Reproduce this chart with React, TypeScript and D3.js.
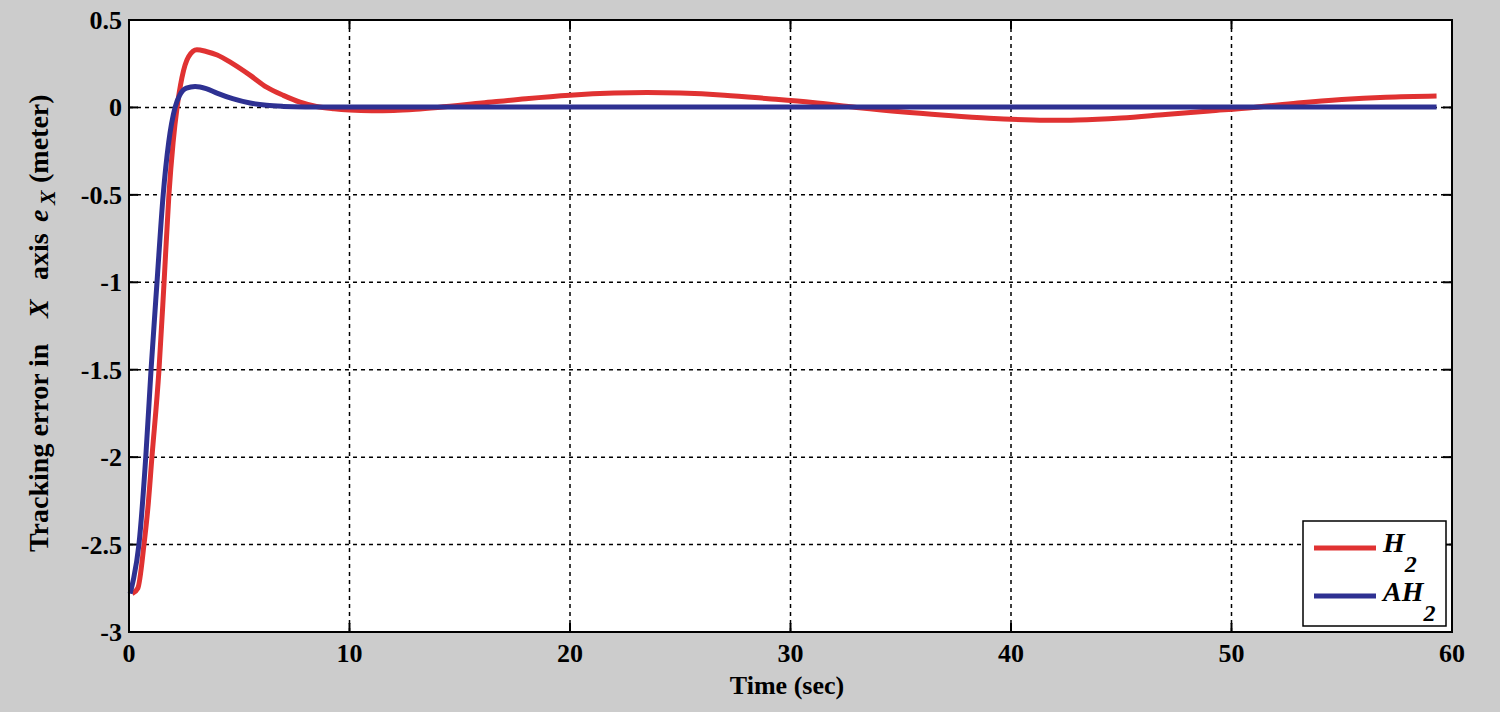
import React from "react";
import * as d3 from "d3";

const xTicks = [0, 10, 20, 30, 40, 50, 60];
const yTicks = [0.5, 0, -0.5, -1, -1.5, -2, -2.5, -3];
const yTickLabels = ["0.5", "0", "-0.5", "-1", "-1.5", "-2", "-2.5", "-3"];

const h2Time = [0.15, 0.4, 0.68, 0.85, 1.04, 1.36, 1.59, 1.81, 2.0, 2.18, 2.4, 2.7, 3.08, 3.5, 4.0, 4.7, 5.5, 6.24, 7.0, 7.76, 8.5, 9.3, 10, 11, 12, 13, 14, 16, 18, 20, 22, 23.5, 25, 27, 29, 31, 33, 35, 37, 39, 41, 42, 43, 45, 47, 49, 51, 53, 55, 57, 59.3];
const h2Value = [-2.78, -2.75, -2.5, -2.3, -2.0, -1.5, -1.0, -0.5, -0.2, 0.0, 0.17, 0.29, 0.33, 0.32, 0.3, 0.25, 0.183, 0.116, 0.069, 0.03, 0.005, -0.008, -0.015, -0.019, -0.017, -0.01, 0.0, 0.025, 0.05, 0.07, 0.082, 0.085, 0.082, 0.07, 0.05, 0.028, 0.0, -0.025, -0.045, -0.062, -0.072, -0.074, -0.072, -0.06, -0.04, -0.02, 0.0, 0.025, 0.045, 0.058, 0.065];

const ah2Time = [0.05, 0.2, 0.45, 0.76, 1.0, 1.27, 1.55, 1.8, 2.09, 2.3, 2.6, 3.0, 3.5, 3.99, 4.7, 5.49, 6.24, 7, 8, 10, 15, 20, 25, 30, 35, 40, 45, 50, 55, 59.3];
const ah2Value = [-2.78, -2.7, -2.5, -2.0, -1.5, -1.0, -0.5, -0.2, 0.0, 0.07, 0.11, 0.12, 0.108, 0.082, 0.05, 0.025, 0.012, 0.006, 0.003, 0.002, 0.002, 0.002, 0.002, 0.002, 0.002, 0.002, 0.002, 0.002, 0.002, 0.002];

const seriesNames = ["H", "AH"];
const seriesColors = ["#e03232", "#2e3192"];

const W = 1500, H = 712;
const left = 129, right = 1452, top = 20, bottom = 632;
const FONT = "'Liberation Serif', 'Times New Roman', serif";

export default function App() {
  const x = d3.scaleLinear().domain([0, 60]).range([left, right]);
  const y = d3.scaleLinear().domain([-3, 0.5]).range([bottom, top]);
  const line = d3
    .line<[number, number]>()
    .x((d) => x(d[0]))
    .y((d) => y(d[1]))
    .curve(d3.curveMonotoneX);
  const h2 = h2Time.map((t, i) => [t, h2Value[i]] as [number, number]);
  const ah2 = ah2Time.map((t, i) => [t, ah2Value[i]] as [number, number]);
  const tick = 9;

  return (
    <svg width={W} height={H} style={{ position: "absolute", left: 0, top: 0 }} fontFamily={FONT}>
      <rect x={0} y={0} width={W} height={H} fill="#cccccc" />
      <rect x={left} y={top} width={right - left} height={bottom - top} fill="#ffffff" />
      {/* grid */}
      {xTicks.slice(1, -1).map((t) => (
        <line key={"gx" + t} x1={x(t)} x2={x(t)} y1={top} y2={bottom} stroke="#000" strokeWidth={1.5} strokeDasharray="4,4" />
      ))}
      {yTicks.slice(1, -1).map((t) => (
        <line key={"gy" + t} x1={left} x2={right} y1={y(t)} y2={y(t)} stroke="#000" strokeWidth={1.5} strokeDasharray="4,4" />
      ))}
      {/* ticks */}
      {xTicks.map((t) => (
        <g key={"tx" + t}>
          <line x1={x(t)} x2={x(t)} y1={bottom} y2={bottom - tick} stroke="#000" strokeWidth={2} />
          <line x1={x(t)} x2={x(t)} y1={top} y2={top + tick} stroke="#000" strokeWidth={2} />
          <text x={x(t)} y={662} textAnchor="middle" fontSize={26} fontWeight="bold" fill="#000">{t}</text>
        </g>
      ))}
      {yTicks.map((t, i) => (
        <g key={"ty" + t}>
          <line x1={left} x2={left + tick} y1={y(t)} y2={y(t)} stroke="#000" strokeWidth={2} />
          <line x1={right} x2={right - tick} y1={y(t)} y2={y(t)} stroke="#000" strokeWidth={2} />
          <text x={122} y={y(t) + 9} textAnchor="end" fontSize={26} fontWeight="bold" fill="#000">{yTickLabels[i]}</text>
        </g>
      ))}
      {/* curves */}
      <path d={line(h2) || ""} fill="none" stroke={seriesColors[0]} strokeWidth={5} />
      <path d={line(ah2) || ""} fill="none" stroke={seriesColors[1]} strokeWidth={5} />
      {/* frame */}
      <rect x={left} y={top} width={right - left} height={bottom - top} fill="none" stroke="#000" strokeWidth={2} />
      {/* axis titles */}
      <text x={787} y={694} textAnchor="middle" fontSize={26} fontWeight="bold" fill="#000">Time (sec)</text>
      <g transform="translate(48,552) rotate(-90)">
        <text fontSize={28} fontWeight="bold" fill="#000">
          <tspan x={0}>Tracking error in</tspan>
          <tspan x={234} fontStyle="italic">X</tspan>
          <tspan x={272}>axis</tspan>
          <tspan x={330} fontStyle="italic">e</tspan>
          <tspan x={347} fontStyle="italic" fontSize={22} dy={7}>X</tspan>
          <tspan x={369} dy={-7}>(meter)</tspan>
        </text>
      </g>
      {/* legend */}
      <rect x={1303} y={521} width={143} height={105} fill="#fff" stroke="#000" strokeWidth={1.5} />
      {seriesNames.map((n, i) => (
        <g key={n}>
          <line x1={1314} x2={1376} y1={548 + i * 48} y2={548 + i * 48} stroke={seriesColors[i]} strokeWidth={5} />
          <text x={1383} y={552 + i * 49} fontSize={28} fontWeight="bold" fontStyle="italic" fill="#000">
            {n}
            <tspan fontSize={24} dy={20}>2</tspan>
          </text>
        </g>
      ))}
    </svg>
  );
}
